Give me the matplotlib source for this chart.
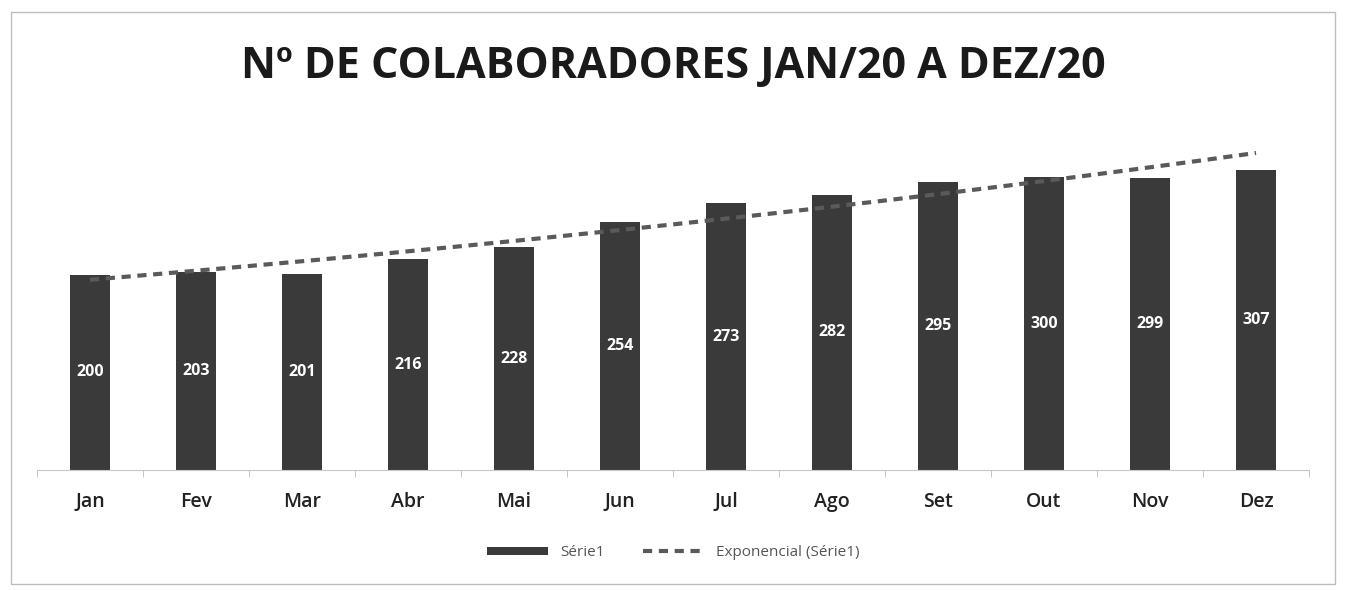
import numpy as np
import matplotlib
matplotlib.use("Agg")
import matplotlib.pyplot as plt
from matplotlib.patches import Rectangle

months = ["Jan", "Fev", "Mar", "Abr", "Mai", "Jun", "Jul", "Ago", "Set", "Out", "Nov", "Dez"]
colaboradores = [200, 203, 201, 216, 228, 254, 273, 282, 295, 300, 299, 307]

plt.rcParams['font.family'] = ['Open Sans', 'DejaVu Sans']

fig = plt.figure(figsize=(13.46, 5.90), dpi=100)
fig.patch.set_facecolor("white")

# chart border
fig.add_artist(Rectangle((0.008, 0.01), 0.984, 0.97, transform=fig.transFigure,
                         fill=False, edgecolor="#bdbdbd", linewidth=1.0))

ax = fig.add_axes([0.0275, 0.203, 0.945, 0.58])
x = np.arange(1, len(months) + 1)
bars = ax.bar(x, colaboradores, width=0.38, color="#3a3a3a", label="Série1", zorder=2)

for xi, v in zip(x, colaboradores):
    ax.text(xi, v / 2, str(v), ha="center", va="center", color="white",
            fontsize=11.5, fontweight="bold", zorder=4)

# exponential trendline fitted on the series
b, a = np.polyfit(x, np.log(colaboradores), 1)
xt = np.linspace(1, len(months), 200)
yt = np.exp(a) * np.exp(b * xt)
trend, = ax.plot(xt, yt, linestyle=(0, (2.2, 1.6)), color="#5a5a5a", linewidth=3,
                 label="Exponencial (Série1)", zorder=3)

ax.set_xlim(0.5, len(months) + 0.5)
ax.set_ylim(0, 350)
ax.set_xticks(x)
ax.set_xticklabels(months, fontsize=14, color="#222222", fontweight="semibold")
ax.set_xticks(np.arange(0.5, len(months) + 1, 1), minor=True)
ax.tick_params(axis="x", which="major", length=0, pad=16)
ax.tick_params(axis="x", which="minor", length=5, color="#bbbbbb")
ax.set_yticks([])
for s in ["top", "right", "left"]:
    ax.spines[s].set_visible(False)
ax.spines["bottom"].set_color("#c8c8c8")

fig.text(0.5, 0.888, "Nº DE COLABORADORES JAN/20 A DEZ/20", ha="center", va="center",
         fontsize=31, fontweight="bold", color="#1a1a1a")

fig.legend(handles=[bars, trend], labels=["Série1", "Exponencial (Série1)"],
           loc="center", bbox_to_anchor=(0.5, 0.063), ncol=2, frameon=False,
           fontsize=11, labelcolor="#555555", handlelength=4.0, handleheight=0.5,
           columnspacing=2.5)

fig.savefig("out.png", dpi=100, facecolor="white")
